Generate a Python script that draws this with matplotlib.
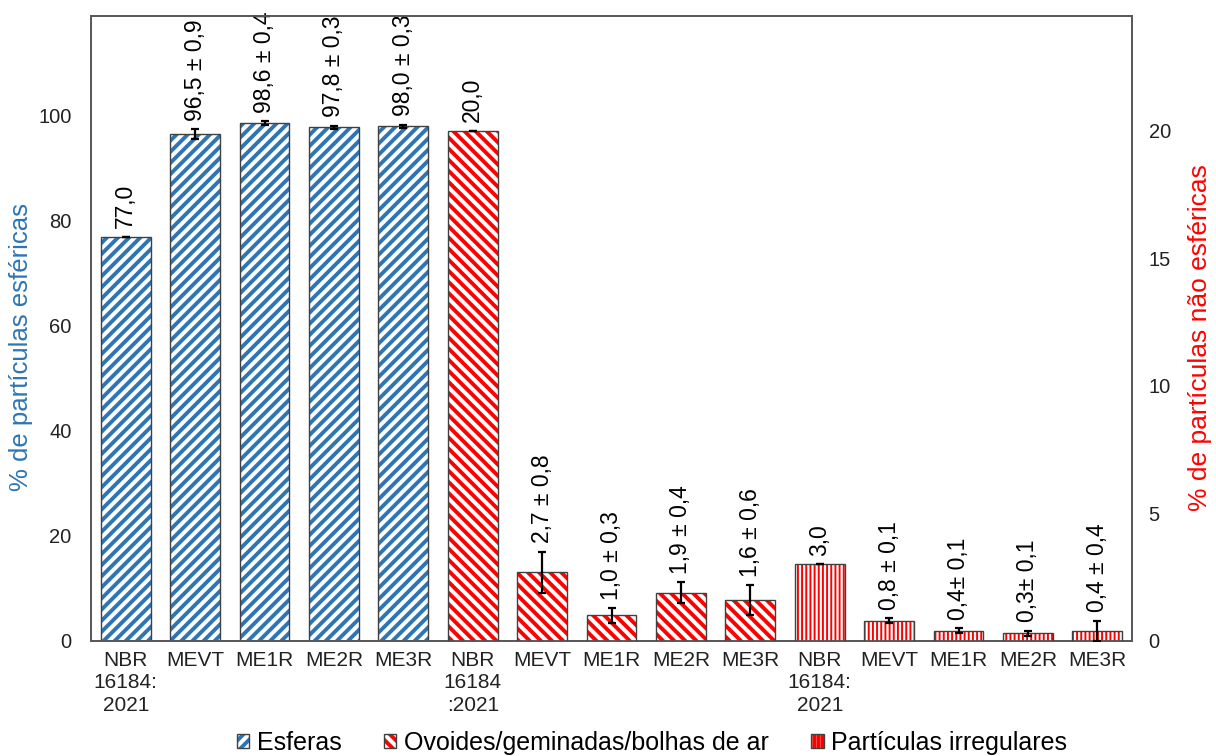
import matplotlib
matplotlib.use("Agg")
import matplotlib.pyplot as plt
import numpy as np
from matplotlib.patches import Patch
from matplotlib.legend_handler import HandlerTuple

plt.rcParams['font.family'] = ['Liberation Sans', 'DejaVu Sans']

# ---- data ----
categories = ["NBR\n16184:\n2021", "MEVT", "ME1R", "ME2R", "ME3R",
              "NBR\n16184\n:2021", "MEVT", "ME1R", "ME2R", "ME3R",
              "NBR\n16184:\n2021", "MEVT", "ME1R", "ME2R", "ME3R"]
esferas = [77.0, 96.5, 98.6, 97.8, 98.0]
esferas_err = [0.0, 0.9, 0.4, 0.3, 0.3]
esferas_lbl = ["77,0", "96,5 ± 0,9", "98,6 ± 0,4", "97,8 ± 0,3", "98,0 ± 0,3"]
ovoides = [20.0, 2.7, 1.0, 1.9, 1.6]
ovoides_err = [0.0, 0.8, 0.3, 0.4, 0.6]
ovoides_lbl = ["20,0", "2,7 ± 0,8", "1,0 ± 0,3", "1,9 ± 0,4", "1,6 ± 0,6"]
irregulares = [3.0, 0.8, 0.4, 0.3, 0.4]
irregulares_err = [0.0, 0.1, 0.1, 0.1, 0.4]
irregulares_lbl = ["3,0", "0,8 ± 0,1", "0,4± 0,1", "0,3± 0,1", "0,4 ± 0,4"]
series_names = ["Esferas", "Ovoides/geminadas/bolhas de ar", "Partículas irregulares"]

BLUE = "#2E75B6"
RED = "#FF0000"
EDGE = "#404040"
FRAME = "#595959"

fig = plt.figure(figsize=(12.16, 7.56), dpi=100)
ax1 = fig.add_axes([91/1216, 1-641/756, (1132-91)/1216, (641-16)/756])
ax2 = ax1.twinx()

x = np.arange(len(categories))
W = 0.72

DIAG_LW = 2.8
VERT_LW = 1.4


def hatched_bars(ax, xs, vals, hatch, color, hlw):
    plt.rcParams['hatch.linewidth'] = hlw
    bars = ax.bar(xs, vals, W, color="white", edgecolor=color, hatch=hatch,
                  linewidth=0, zorder=2)
    for b in bars:
        if hasattr(b, "set_hatch_linewidth"):
            b.set_hatch_linewidth(hlw)
    ax.bar(xs, vals, W, fill=False, edgecolor=EDGE, linewidth=1.0, zorder=3)


hatched_bars(ax1, x[0:5], esferas, "///", BLUE, DIAG_LW)
hatched_bars(ax2, x[5:10], ovoides, "\\\\\\", RED, DIAG_LW)
hatched_bars(ax2, x[10:15], irregulares, "||||", RED, VERT_LW)
plt.rcParams['hatch.linewidth'] = DIAG_LW

ekw = dict(fmt="none", ecolor="black", elinewidth=1.6, capsize=3, capthick=1.6, zorder=4)
ax1.errorbar(x[0:5], esferas, yerr=esferas_err, **ekw)
ax2.errorbar(x[5:10], ovoides, yerr=ovoides_err, **ekw)
ax2.errorbar(x[10:15], irregulares, yerr=irregulares_err, **ekw)


def labels(ax, xs, vals, errs, lbls):
    for xi, v, e, t in zip(xs, vals, errs, lbls):
        ax.annotate(t, (xi, v + e), xytext=(0, 6), textcoords="offset points",
                    rotation=90, ha="center", va="bottom", fontsize=16.5,
                    color="black", zorder=5)


labels(ax1, x[0:5], esferas, esferas_err, esferas_lbl)
labels(ax2, x[5:10], ovoides, ovoides_err, ovoides_lbl)
labels(ax2, x[10:15], irregulares, irregulares_err, irregulares_lbl)

ax1.set_xlim(-0.5, len(categories) - 0.5)
ax1.set_ylim(0, 119)
ax2.set_ylim(0, 24.5)
ax1.set_yticks([0, 20, 40, 60, 80, 100])
ax2.set_yticks([0, 5, 10, 15, 20])
ax1.set_xticks(x)
ax1.set_xticklabels(categories, fontsize=15, color="#222222", linespacing=1.25)
ax1.tick_params(axis="x", length=0, pad=7)
ax1.tick_params(axis="y", length=0, pad=14, labelsize=14.5, labelcolor="#222222")
ax2.tick_params(axis="y", length=0, pad=12, labelsize=14.5, labelcolor="#222222")

for ax in (ax1, ax2):
    for s in ax.spines.values():
        s.set_color(FRAME)
        s.set_linewidth(1.3)

fig.text(21/1216, 1-347/756, "% de partículas esféricas", rotation=90,
         ha="center", va="center", fontsize=18.5, color=BLUE)
fig.text(1200/1216, 1-338/756, "% de partículas não esféricas", rotation=90,
         ha="center", va="center", fontsize=19, color=RED)

# legend
handles = []
for hatch, col, hlw in [("///", BLUE, DIAG_LW), ("\\\\\\", RED, DIAG_LW), ("||||", RED, VERT_LW)]:
    hp = Patch(facecolor="white", edgecolor=col, hatch=hatch, linewidth=0)
    if hasattr(hp, "set_hatch_linewidth"):
        hp.set_hatch_linewidth(hlw)
    ep = Patch(facecolor="none", edgecolor=EDGE, linewidth=1.0)
    handles.append((hp, ep))
fig.legend(handles, series_names, loc="center", bbox_to_anchor=(652/1216, 13/756),
           ncol=3, frameon=False, fontsize=18, handlelength=0.5, handleheight=0.5,
           handletextpad=0.3, columnspacing=1.7, borderaxespad=0,
           handler_map={tuple: HandlerTuple(ndivide=1, pad=0)})

fig.savefig("out.png", dpi=100)
